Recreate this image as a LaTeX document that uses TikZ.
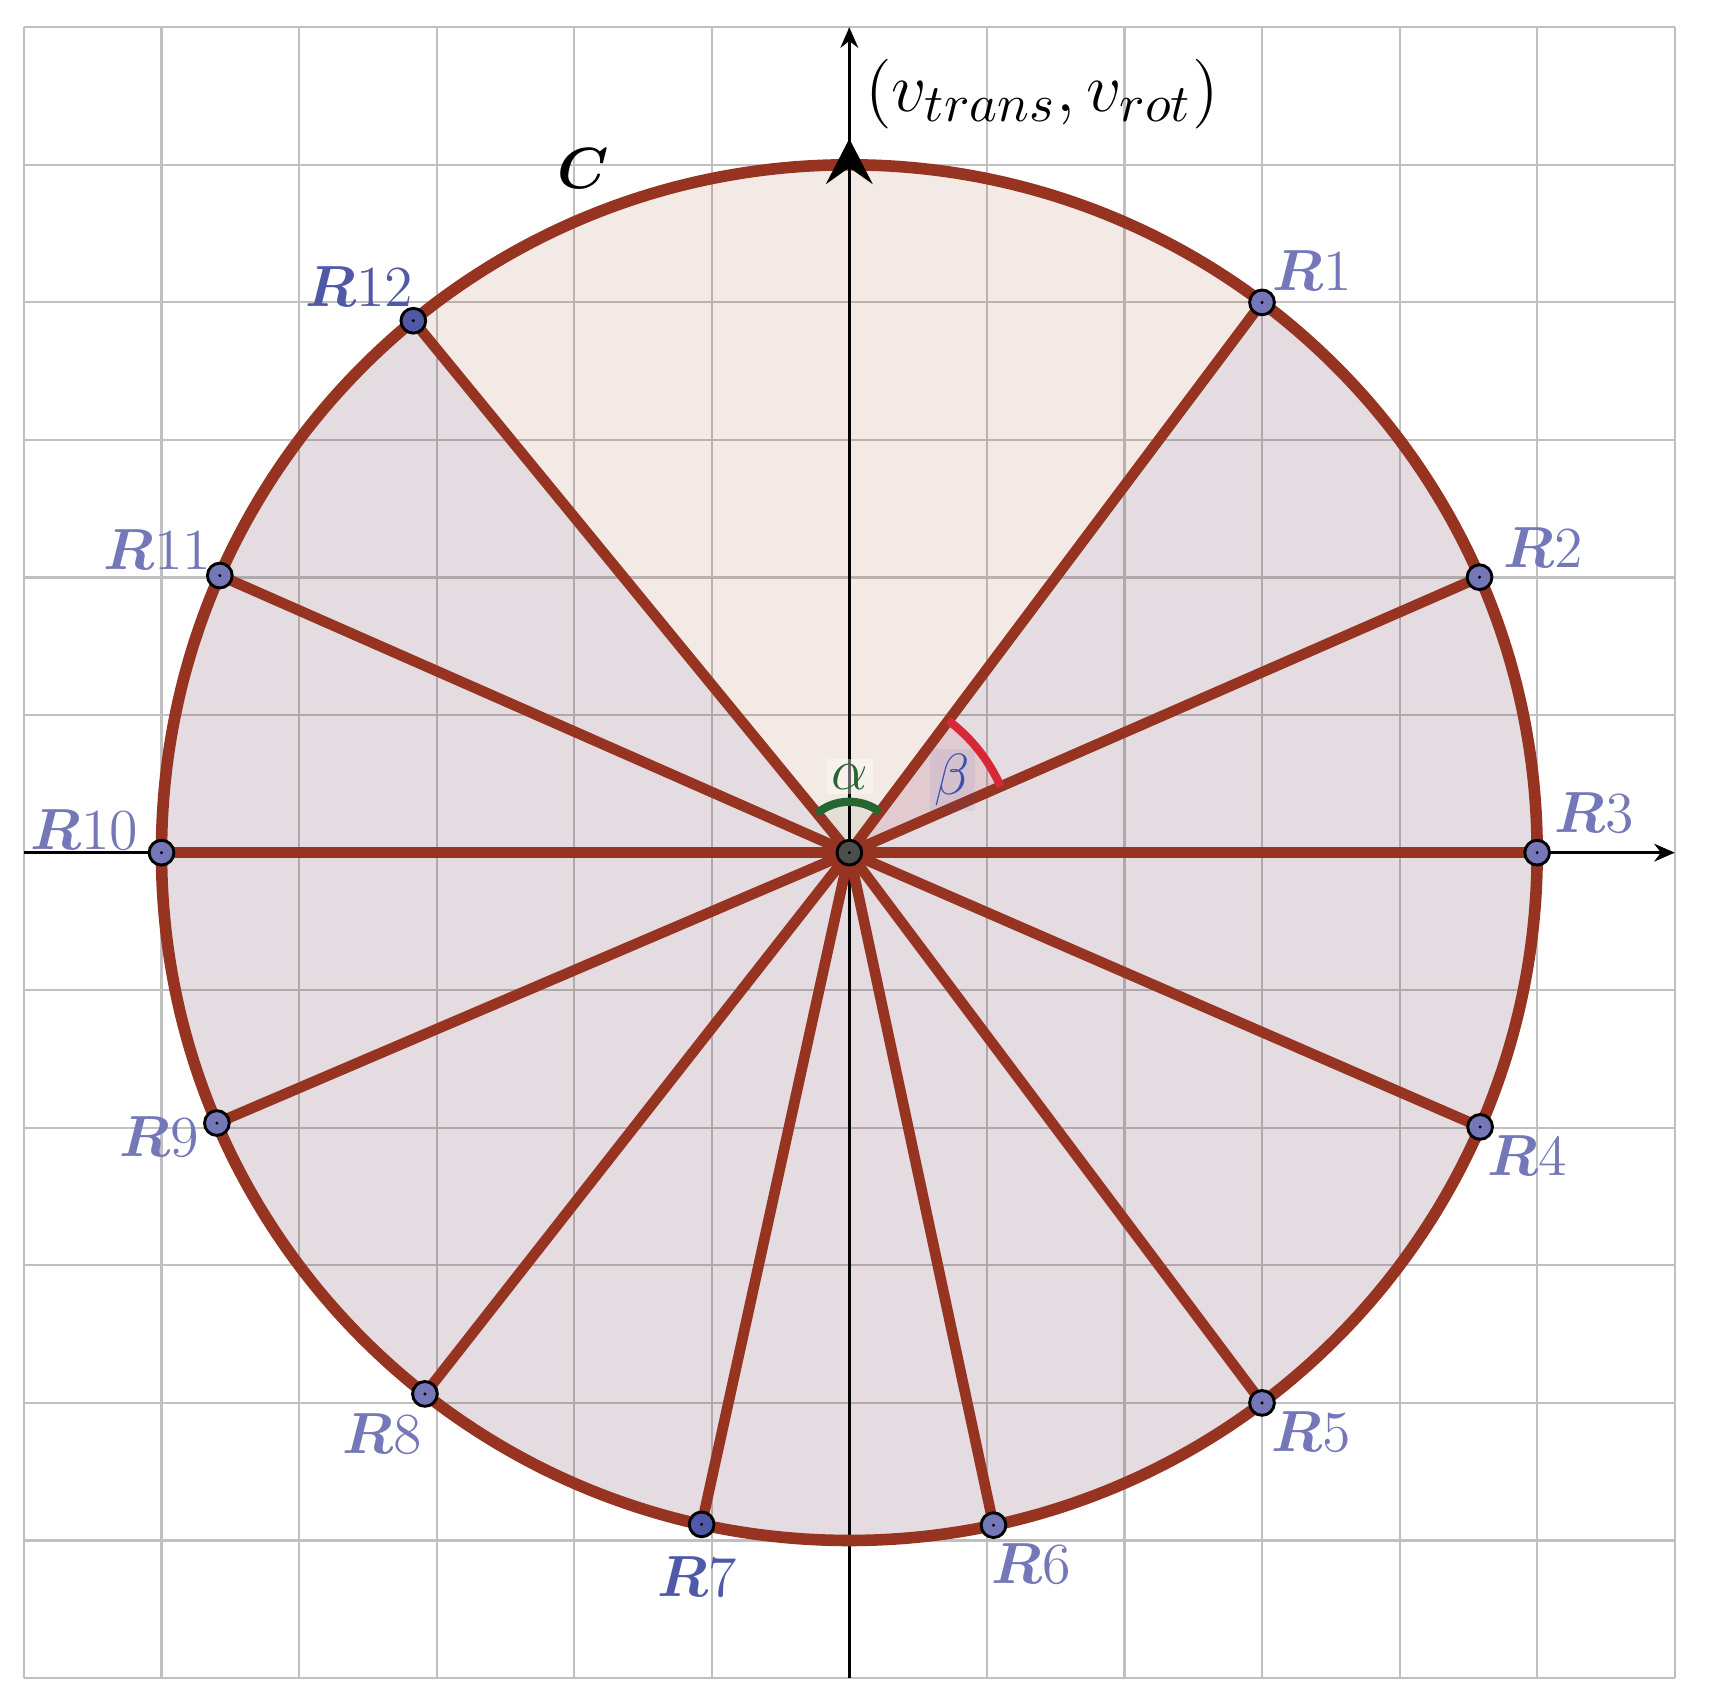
\documentclass[tikz,border=0pt]{standalone}
\usepackage{amsmath,bm}
\usetikzlibrary{arrows.meta}
\definecolor{brn}{RGB}{150,52,33}
\definecolor{cfillc}{RGB}{153,51,0}
\definecolor{sfillc}{RGB}{69,75,180}
\definecolor{ptl}{RGB}{117,120,184}
\definecolor{ptd}{RGB}{80,88,168}
\definecolor{grn}{RGB}{38,102,48}
\definecolor{redarc}{RGB}{216,40,56}
\definecolor{betac}{RGB}{60,80,176}
\definecolor{ctrpt}{RGB}{77,77,77}
\begin{document}
\begin{tikzpicture}[
  gridline/.style={draw={rgb,255:red,192;green,192;blue,192}, line width=0.45pt},
  ray/.style={draw=brn, line width=2.2pt},
  axis/.style={line width=0.5pt, -{Stealth[length=0.15cm,width=0.13cm,inset=0.05cm]}},
  pt/.style={circle, draw=black, line width=0.6pt, minimum size=0.18cm, inner sep=0pt},
  lab/.style={anchor=base west, inner sep=0pt, font=\fontsize{12}{14}\selectfont},
]
\useasboundingbox (-6.174,-6.196) rectangle (6.271,6.198);
\fill[white] (-6.174,-6.196) rectangle (6.271,6.198);
\draw[gridline] (-6,-6) grid (6,6);

\coordinate (O) at (0,0);
\foreach \n/\a in {1/53.13, 2/23.61, 3/0, 4/-23.5, 5/-53.13, 6/-77.9, 7/-102.4, 8/-128.1, 9/-156.85, 10/180, 11/156.24, 12/129.34}
  \coordinate (R\n) at (\a:5);

% fills
\fill[cfillc, fill opacity=0.1] (O) circle (5);
\fill[sfillc, fill opacity=0.085] (O) -- (53.13:5) arc[start angle=53.13, end angle=-230.66, radius=5] -- cycle;
\fill[redarc, fill opacity=0.09] (O) -- (23.61:1.2) arc[start angle=23.61, end angle=53.13, radius=1.2] -- cycle;
\fill[grn, fill opacity=0.08] (O) -- (53.13:0.37) arc[start angle=53.13, end angle=129.34, radius=0.37] -- cycle;

% axes
\coordinate (xl) at (-6,0); \coordinate (xr) at (6,0);
\coordinate (yb) at (0,-6); \coordinate (yt) at (0,6);
\draw[axis] (xl) -- (xr);
\draw[axis] (yb) -- (yt);

% rays
\foreach \n in {1,...,12} \draw[ray] (O) -- (R\n);
% circle outline
\draw[brn, line width=2.4pt] (O) circle (5);

% angle arcs
\draw[grn, line width=1.7pt] (53.13:0.37) arc[start angle=53.13, end angle=129.34, radius=0.37];
\draw[redarc, line width=1.7pt] (23.61:1.2) arc[start angle=23.61, end angle=53.13, radius=1.2];

% vector arrow tip at top
\coordinate (va) at (0,4.6); \coordinate (vb) at (0,5.19);
\draw[line width=0.5pt, -{Stealth[length=0.33cm,width=0.34cm,inset=0.12cm]}] (va) -- (vb);

% points
\foreach \n in {1,2,3,4,5,6,8,9,10,11}
  \node[pt, fill=ptl] (P\n) at (R\n) {};
\foreach \n in {7,12}
  \node[pt, fill=ptd] (P\n) at (R\n) {};
\node[pt, fill=ctrpt] (PO) at (O) {};
\foreach \n in {1,...,12} \fill[black] (R\n) circle (0.012);
\fill[black] (O) circle (0.012);

% labels
\node[lab, ptl] (L1) at (3.07,4.09) {$\boldsymbol{R}1$};
\node[lab, ptl] (L2) at (4.75,2.07) {$\boldsymbol{R}2$};
\node[lab, ptl] (L3) at (5.12,0.15) {$\boldsymbol{R}3$};
\node[lab, ptl] (L4) at (4.63,-2.35) {$\boldsymbol{R}4$};
\node[lab, ptl] (L5) at (3.06,-4.354) {$\boldsymbol{R}5$};
\node[lab, ptl] (L6) at (1.03,-5.31) {$\boldsymbol{R}6$};
\node[lab, ptd] (L7) at (-1.40,-5.41) {$\boldsymbol{R}7$};
\node[lab, ptl] (L8) at (-3.69,-4.366) {$\boldsymbol{R}8$};
\node[lab, ptl] (L9) at (-5.31,-2.21) {$\boldsymbol{R}9$};
\node[lab, ptl] (L10) at (-5.96,0.02) {$\boldsymbol{R}10$};
\node[lab, ptl] (L11) at (-5.43,2.06) {$\boldsymbol{R}11$};
\node[lab, ptd] (L12) at (-3.96,3.97) {$\boldsymbol{R}12$};

\node[lab, black] (LC) at (-2.13,4.83) {$\boldsymbol{C}$};
\node[anchor=base west, inner sep=0pt, font=\fontsize{15.6}{18}\selectfont] (LV) at (0.11,5.39) {$(v_{trans}, v_{rot})$};

\node[grn, font=\fontsize{12}{14}\selectfont, fill=white, fill opacity=0.4, text opacity=1, inner sep=1pt] (LA) at (0.004,0.552) {$\alpha$};
\node[betac, font=\fontsize{12}{14}\selectfont, fill=betac, fill opacity=0.08, text opacity=1, inner sep=1pt] (LB) at (0.748,0.528) {$\beta$};
\end{tikzpicture}
\end{document}
